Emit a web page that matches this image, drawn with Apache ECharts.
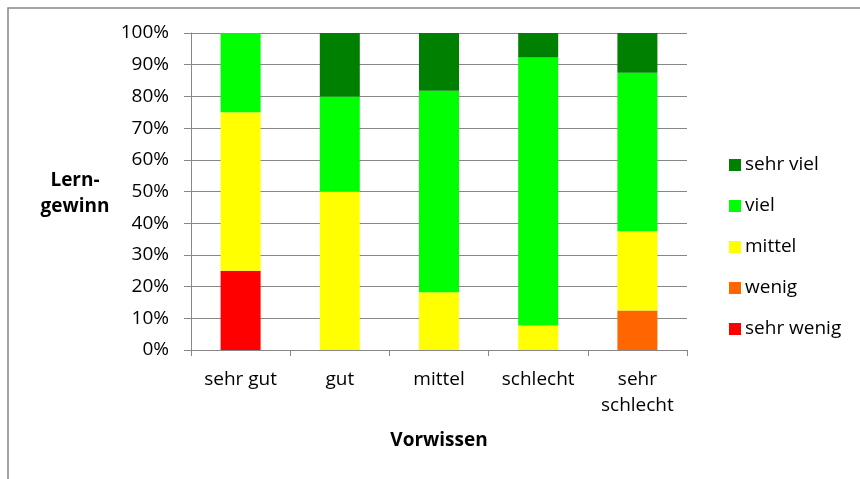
<!DOCTYPE html>
<html>
<head>
<meta charset="utf-8">
<script src="https://cdn.jsdelivr.net/npm/echarts@6/dist/echarts.min.js"></script>
<style>
html,body{margin:0;padding:0;background:#fff;}
#c{width:860px;height:479px;}
</style>
</head>
<body>
<div id="c"></div>
<script>
const categories = ['sehr gut', 'gut', 'mittel', 'schlecht', 'sehr\nschlecht'];
const sehrWenig = [25, 0, 0, 0, 0];
const wenig = [0, 0, 0, 0, 12.5];
const mittel = [50, 50, 18.2, 7.7, 25];
const viel = [25, 30, 63.6, 84.6, 50];
const sehrViel = [0, 20, 18.2, 7.7, 12.5];
const yTicks = [0, 10, 20, 30, 40, 50, 60, 70, 80, 90, 100];

const FONT = '"Open Sans", "Noto Sans", sans-serif';
const chart = echarts.init(document.getElementById('c'), null, {renderer: 'canvas'});
const mk = (name, data, color) => ({
  name: name, type: 'bar', stack: 'total', data: data, barWidth: 40,
  itemStyle: {color: color}, emphasis: {disabled: true}
});
chart.setOption({
  animation: false,
  backgroundColor: '#ffffff',
  textStyle: {fontFamily: FONT},
  grid: {left: 191, top: 33, right: 173, bottom: 129, containLabel: false},
  legend: {
    orient: 'vertical', left: 724, top: 150,
    itemWidth: 12, itemHeight: 12, itemGap: 21,
    icon: 'rect',
    data: ['sehr viel', 'viel', 'mittel', 'wenig', 'sehr wenig'],
    textStyle: {fontFamily: FONT, fontSize: 19, color: '#000', lineHeight: 20, padding: [0, 0, 0, -1]},
    selectedMode: false
  },
  xAxis: {
    type: 'category', data: categories,
    axisLine: {lineStyle: {color: '#878787', width: 1}},
    axisTick: {show: true, length: 6, alignWithLabel: false, lineStyle: {color: '#878787'}},
    axisLabel: {fontFamily: FONT, fontSize: 19, color: '#000', margin: 17, lineHeight: 26, interval: 0}
  },
  yAxis: {
    type: 'value', min: 0, max: yTicks[yTicks.length - 1], interval: 10,
    axisLine: {show: true, lineStyle: {color: '#878787', width: 1}},
    axisTick: {show: true, length: 7, inside: false, lineStyle: {color: '#878787'}},
    splitLine: {show: true, lineStyle: {color: '#878787', width: 1}},
    axisLabel: {fontFamily: FONT, fontSize: 19, color: '#000', margin: 22, formatter: '{value}%'}
  },
  graphic: [
    {type: 'rect', x: 8, y: 8, shape: {x: 0, y: 0, width: 900, height: 520},
     style: {fill: 'none', stroke: '#888888', lineWidth: 1.5}, silent: true},
    {type: 'text', x: 75, y: 168, style: {text: 'Lern-\ngewinn', fontFamily: FONT, fontSize: 19, fontWeight: 'bold',
      fill: '#000', align: 'center', verticalAlign: 'top', lineHeight: 26}},
    {type: 'text', x: 439, y: 431, style: {text: 'Vorwissen', fontFamily: FONT, fontSize: 19, fontWeight: 'bold',
      fill: '#000', align: 'center', verticalAlign: 'top'}}
  ],
  series: [
    mk('sehr wenig', sehrWenig, '#FF0000'),
    mk('wenig', wenig, '#FF6600'),
    mk('mittel', mittel, '#FFFF00'),
    mk('viel', viel, '#00FF00'),
    mk('sehr viel', sehrViel, '#008000')
  ]
});
</script>
</body>
</html>
